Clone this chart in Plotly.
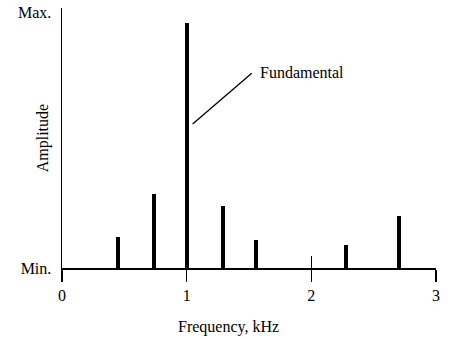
import plotly.graph_objects as go

# Data
freqs = [0.45, 0.74, 1.0, 1.29, 1.56, 2.28, 2.70]        # kHz
amplitudes = [0.122, 0.291, 0.959, 0.242, 0.111, 0.091, 0.205]  # relative (Min=0, Max=1)
x_ticks = [0, 1, 2, 3]
x_tick_labels = ["0", "1", "2", "3"]
y_ticks = [0, 1]
y_tick_labels = ["Min.", "Max."]

FONT = "Liberation Serif, Times New Roman, serif"

fig = go.Figure()
fig.add_trace(go.Bar(
    x=freqs, y=amplitudes, width=0.032,
    marker=dict(color="black", line=dict(width=0)),
    showlegend=False, hoverinfo="skip",
))

fig.update_layout(
    width=456, height=339,
    margin=dict(l=62, r=20, t=8, b=71),
    paper_bgcolor="white", plot_bgcolor="white",
    font=dict(family=FONT, size=16, color="black"),
    showlegend=False,
    bargap=0,
    xaxis=dict(
        range=[0, 3], tickvals=x_ticks, ticktext=x_tick_labels,
        ticks="outside", ticklen=12, tickwidth=1.5, tickcolor="black",
        showline=True, linecolor="black", linewidth=1.5,
        showgrid=False, zeroline=False, fixedrange=True, automargin=False,
    ),
    xaxis2=dict(
        range=[0, 3], overlaying="x", side="bottom", anchor="y",
        tickvals=x_ticks, showticklabels=False,
        ticks="inside", ticklen=12, tickwidth=1.5, tickcolor="black",
        showline=False, showgrid=False, zeroline=False, automargin=False,
        fixedrange=True,
    ),
    yaxis=dict(
        range=[0, 1.0184], tickvals=y_ticks, ticktext=y_tick_labels,
        ticks="", ticklabelstandoff=6,
        showline=True, linecolor="black", linewidth=1.5,
        showgrid=False, zeroline=False, fixedrange=True, automargin=False,
    ),
)

# invisible trace to anchor xaxis2
fig.add_trace(go.Scatter(x=[0], y=[0], xaxis="x2", mode="markers",
                         marker=dict(opacity=0), showlegend=False, hoverinfo="skip"))

# Leader line for "Fundamental"
fig.add_shape(type="line", xref="x", yref="y",
              x0=1.048, y0=0.564, x1=1.522, y1=0.763,
              line=dict(color="black", width=1.3))
fig.add_annotation(x=1.57, y=0.764, xref="x", yref="y", text="Fundamental",
                   showarrow=False, xanchor="left", yanchor="middle",
                   font=dict(family=FONT, size=16, color="black"))

# Axis titles
fig.add_annotation(x=-0.05, y=0.5, xref="paper", yref="paper", text="Amplitude",
                   textangle=-90, showarrow=False, xanchor="center", yanchor="middle",
                   font=dict(family=FONT, size=16, color="black"))
fig.add_annotation(x=0.444, y=-0.227, xref="paper", yref="paper", text="Frequency, kHz",
                   showarrow=False, xanchor="center", yanchor="middle",
                   font=dict(family=FONT, size=16, color="black"))

fig.write_html("out.html", config={"displayModeBar": False, "staticPlot": True},
               post_script="document.body.style.margin='0';document.body.style.overflow='hidden';")
